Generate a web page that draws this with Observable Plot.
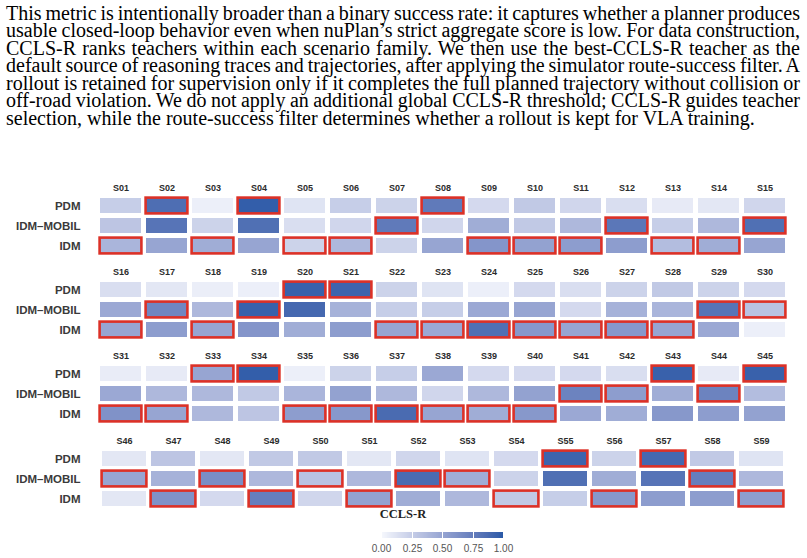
<!DOCTYPE html>
<html><head><meta charset="utf-8">
<script src="https://cdn.jsdelivr.net/npm/d3@7"></script>
<script src="https://cdn.jsdelivr.net/npm/@observablehq/plot@0.6"></script>
<style>
body{margin:0;background:#fff;width:807px;height:558px;overflow:hidden;position:relative;}
#text{position:absolute;left:6px;top:4.5px;width:794px;font-family:"Liberation Serif","Times New Roman",serif;font-size:20px;line-height:17.5px;color:#000;}
#text div{white-space:nowrap;}
.panel{position:absolute;left:0;}
.panel svg{display:block;}
#ltitle{position:absolute;left:353px;width:100px;text-align:center;top:507px;font-family:"Liberation Serif","Times New Roman",serif;font-weight:bold;font-size:12.5px;color:#222;}
#legend{position:absolute;left:371px;top:532px;}
</style></head>
<body>
<div id="text"></div>
<div id="panels"></div>
<div id="ltitle">CCLS-R</div>
<div id="legend"></div>
<script>
const textLines = [
  "This metric is intentionally broader than a binary success rate: it captures whether a planner produces",
  "usable closed-loop behavior even when nuPlan’s strict aggregate score is low. For data construction,",
  "CCLS-R ranks teachers within each scenario family. We then use the best-CCLS-R teacher as the",
  "default source of reasoning traces and trajectories, after applying the simulator route-success filter. A",
  "rollout is retained for supervision only if it completes the full planned trajectory without collision or",
  "off-road violation. We do not apply an additional global CCLS-R threshold; CCLS-R guides teacher",
  "selection, while the route-success filter determines whether a rollout is kept for VLA training."
];
const teachers = ["PDM", "IDM–MOBIL", "IDM"];
const scenarios = [
  "S01","S02","S03","S04","S05","S06","S07","S08","S09","S10","S11","S12","S13","S14","S15",
  "S16","S17","S18","S19","S20","S21","S22","S23","S24","S25","S26","S27","S28","S29","S30",
  "S31","S32","S33","S34","S35","S36","S37","S38","S39","S40","S41","S42","S43","S44","S45",
  "S46","S47","S48","S49","S50","S51","S52","S53","S54","S55","S56","S57","S58","S59"
];
const pdm = [
  0.25,0.86,0.05,0.97,0.12,0.25,0.22,0.78,0.18,0.28,0.20,0.15,0.08,0.10,0.20,
  0.15,0.10,0.06,0.05,0.95,0.93,0.22,0.12,0.05,0.18,0.15,0.22,0.28,0.22,0.18,
  0.07,0.08,0.50,0.97,0.05,0.22,0.25,0.48,0.18,0.18,0.18,0.15,0.95,0.08,0.95,
  0.10,0.30,0.10,0.28,0.28,0.10,0.20,0.12,0.18,0.93,0.22,0.90,0.28,0.12
];
const idmMobil = [
  0.30,0.82,0.22,0.85,0.15,0.20,0.78,0.20,0.45,0.28,0.38,0.80,0.25,0.38,0.85,
  0.48,0.70,0.38,0.95,0.90,0.42,0.25,0.25,0.48,0.50,0.18,0.42,0.40,0.82,0.32,
  0.48,0.38,0.38,0.28,0.40,0.52,0.38,0.20,0.38,0.52,0.72,0.55,0.45,0.72,0.35,
  0.50,0.42,0.65,0.38,0.32,0.38,0.88,0.45,0.22,0.85,0.45,0.82,0.75,0.38
];
const idm = [
  0.40,0.50,0.45,0.50,0.22,0.38,0.22,0.50,0.60,0.52,0.55,0.55,0.35,0.45,0.50,
  0.50,0.55,0.50,0.60,0.45,0.55,0.50,0.48,0.85,0.58,0.50,0.58,0.50,0.48,0.05,
  0.62,0.50,0.38,0.30,0.55,0.58,0.88,0.50,0.45,0.58,0.48,0.45,0.58,0.55,0.52,
  0.10,0.62,0.18,0.75,0.20,0.52,0.45,0.38,0.28,0.25,0.58,0.55,0.55,0.55
];
const legendTicks = [0, 0.25, 0.5, 0.75, 1];

// text: each line fitted to the column width like justified typesetting
const tdiv = document.getElementById("text");
const colWidth = 794;
textLines.forEach((t, i) => {
  const d = document.createElement("div");
  const s = document.createElement("span");
  s.textContent = t;
  d.appendChild(s);
  tdiv.appendChild(d);
  if (i < textLines.length - 1) {
    const w = s.getBoundingClientRect().width;
    const spaces = (t.match(/ /g) || []).length;
    d.style.wordSpacing = ((colWidth - w) / spaces) + "px";
  }
});

const colorOpts = {type: "linear", domain: [0, 1], range: ["#f6f8fd", "#2a5aa7"], interpolate: "lab"};

const series = [pdm, idmMobil, idm];
const rows = [];
scenarios.forEach((s, j) => {
  const vals = series.map(a => a[j]);
  const mx = Math.max(...vals);
  teachers.forEach((t, i) => rows.push({scenario: s, teacher: t, value: vals[i], best: vals[i] === mx}));
});

const panelTops = [176, 260, 344, 429];
const panelsDiv = document.getElementById("panels");
for (let p = 0; p < 4; p++) {
  const cols = scenarios.slice(p * 15, p * 15 + 15);
  const data = rows.filter(d => cols.includes(d.scenario));
  const chart = Plot.plot({
    width: 807, height: 84,
    marginLeft: 95.7, marginRight: 18.3, marginTop: 19.5, marginBottom: 4.5,
    style: {fontFamily: "'Liberation Sans', Arial, sans-serif", background: "transparent"},
    x: {domain: cols, paddingInner: 0.1, paddingOuter: 0.05, label: null},
    y: {domain: teachers, paddingInner: 0.25, paddingOuter: 0.125, label: null},
    color: colorOpts,
    marks: [
      Plot.cell(data, {x: "scenario", y: "teacher", fill: "value", inset: 0}),
      Plot.cell(data.filter(d => d.best), {x: "scenario", y: "teacher", fill: "none", stroke: "#dc3127", strokeWidth: 2.6, inset: -0.4}),
      Plot.axisX({anchor: "top", tickSize: 0, tickPadding: 5, fontWeight: "bold", fontSize: 9, color: "#2b2b2b", label: null}),
      Plot.axisY({tickSize: 0, tickPadding: 15.7, fontWeight: "bold", fontSize: 11.5, color: "#3a3a3a", label: null})
    ]
  });
  const wrap = document.createElement("div");
  wrap.className = "panel";
  wrap.style.top = panelTops[p] + "px";
  wrap.appendChild(chart);
  panelsDiv.appendChild(wrap);
}

const leg = Plot.legend({
  color: colorOpts,
  width: 142, marginLeft: 10, marginRight: 10,
  marginTop: 0, height: 22, marginBottom: 16, tickSize: 0,
  ticks: legendTicks, tickFormat: ".2f", label: null,
  style: {fontFamily: "'Liberation Sans', Arial, sans-serif", fontSize: "10px", color: "#555", background: "transparent"}
});
document.getElementById("legend").appendChild(leg);
const ls = d3.select(leg);
ls.selectAll(".tick line").attr("stroke", "#fff").attr("stroke-width", 1);
ls.selectAll(".tick text").attr("y", 7).attr("fill", "#555");
</script>
</body></html>
